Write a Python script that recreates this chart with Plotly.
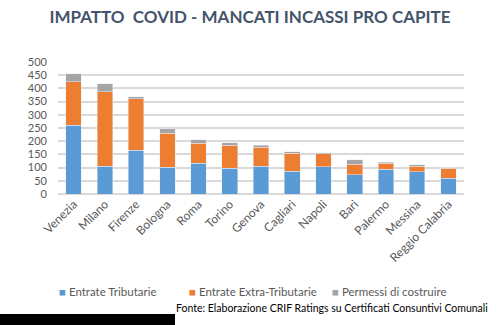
import plotly.graph_objects as go

cities = ["Venezia", "Milano", "Firenze", "Bologna", "Roma", "Torino", "Genova",
          "Cagliari", "Napoli", "Bari", "Palermo", "Messina", "Reggio Calabria"]
tributarie = [260, 105, 165, 102, 116, 97, 106, 87, 104, 72, 94, 85, 60]
extra_tributarie = [165, 282, 195, 129, 77, 88, 71, 67, 48, 40, 22, 21, 37]
permessi = [30, 30, 8, 16, 13, 9, 7, 6, 4, 17, 5, 4, 3]

series_names = ["Entrate Tributarie", "Entrate Extra-Tributarie", "Permessi di costruire"]
series_colors = ["#5B9BD5", "#ED7D31", "#A5A5A5"]

W, H = 500, 325
L, R, T, B = 58, 36, 62, 131
pw, ph = W - L - R, H - T - B

def px(x):
    return (x - L) / pw

def py(y):
    return (H - B - y) / ph

fig = go.Figure()
for name, vals, col in zip(series_names, [tributarie, extra_tributarie, permessi], series_colors):
    fig.add_bar(x=cities, y=vals, name=name, marker_color=col)

fig.update_layout(
    width=W, height=H,
    barmode="stack", bargap=0.5,
    margin=dict(l=L, r=R, t=T, b=B),
    paper_bgcolor="white", plot_bgcolor="white",
    font=dict(family="Lato, Open Sans, sans-serif", color="#595959"),
    title=dict(text="<b>IMPATTO  COVID - MANCATI INCASSI PRO CAPITE</b>",
               x=0.5, xanchor="center", y=1 - 17 / H, yanchor="middle",
               font=dict(size=17, color="#44546A")),
    xaxis=dict(tickangle=-45, tickfont=dict(size=12, color="#595959"),
               showgrid=False, showline=False, ticks=""),
    yaxis=dict(range=[0, 500], dtick=50, tickfont=dict(size=11, color="#595959"),
               gridcolor="#D9D9D9", gridwidth=1.5, zeroline=True,
               zerolinecolor="#D9D9D9", zerolinewidth=1.5, ticks="",
               ticklabelstandoff=10),
    showlegend=False,
)

# legend drawn as text entries
legend_x = [57, 187, 330]
for name, col, lx in zip(series_names, series_colors, legend_x):
    fig.add_annotation(text=f"<span style='color:{col}'>■</span> {name}",
                       xref="paper", yref="paper", x=px(lx), y=py(291),
                       xanchor="left", yanchor="middle", showarrow=False,
                       font=dict(size=11.5, color="#595959"))

fig.add_annotation(text="Fonte: Elaborazione CRIF Ratings su Certificati Consuntivi Comunali",
                   xref="paper", yref="paper", x=px(490), y=py(308),
                   xanchor="right", yanchor="middle", showarrow=False,
                   font=dict(size=10.5, color="#000000"))

fig.add_shape(type="rect", xref="paper", yref="paper",
              x0=px(0), x1=px(175), y0=py(325), y1=py(314),
              fillcolor="black", line_width=0, layer="above")

fig.write_html("out.html")
